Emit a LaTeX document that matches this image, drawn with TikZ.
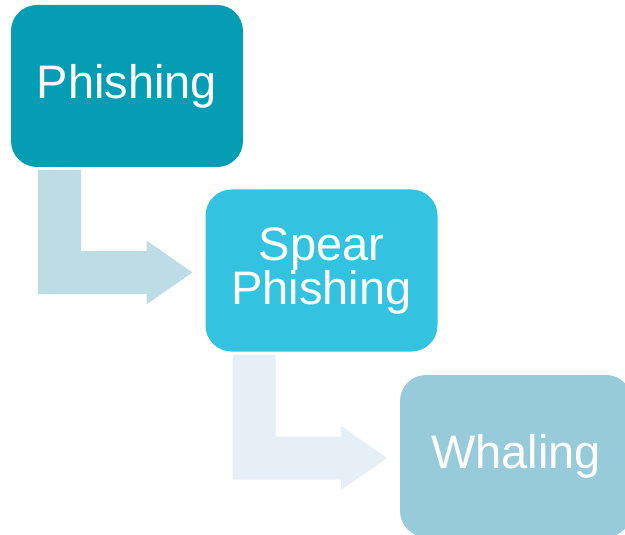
\documentclass[tikz,border=0pt]{standalone}
\usepackage{fontspec}
\setmainfont{Liberation Sans}
\usetikzlibrary{
  calc,
  positioning,
}
\definecolor{phishcol}{HTML}{049DB3}
\definecolor{spearcol}{HTML}{33C3E0}
\definecolor{whalecol}{HTML}{97CBD9}
\definecolor{arrowA}{HTML}{BEDCE5}
\definecolor{arrowB}{HTML}{E6EFF5}

\begin{document}
\begin{tikzpicture}[x=1pt,y=-1pt,
  font=\fontsize{47}{44}\selectfont,
  stage/.style={rounded corners=26pt,inner sep=0pt,outer sep=0pt,
    minimum width=232pt,minimum height=162pt,text=white,align=center}]
  \clip (0,0) rectangle (625,535);
  \fill[white] (0,0) rectangle (625,535);
  %%
  \node[stage,fill=phishcol](phish) at (127,86) {Phishing};
  \node[stage,fill=spearcol](spear) at (321.5,270.5) {Spear\\Phishing};
  \node[stage,fill=whalecol](whale) at (516,456) {Whaling};
  %%
  \foreach \from/\to/\col in {phish/spear/arrowA,spear/whale/arrowB}{
    \coordinate (s) at ($(\from.south west)+(27,3)$);
    \coordinate (t) at ($(\to.west)+(-13,2)$);
    \fill[\col] (s) -- ++(43,0) |- ($(t)+(-46,-21.5)$) -- ++(0,-10.5)
      -- (t) -- ++(-46,32) -- ++(0,-10.5) -| (s) -- cycle;
  }
\end{tikzpicture}
\end{document}
